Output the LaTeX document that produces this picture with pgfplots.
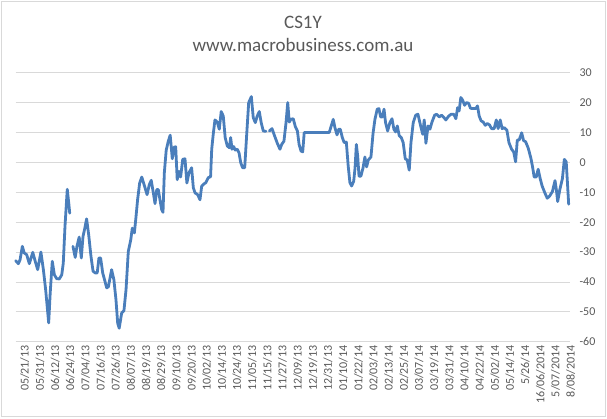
\documentclass[border=0pt]{standalone}
\usepackage{pgfplots}
\pgfplotsset{compat=1.18}
\usepackage{fontspec}
\setmainfont{Carlito}
\definecolor{txtgray}{HTML}{595959}
\definecolor{gridgray}{HTML}{D9D9D9}
\definecolor{lineblue}{HTML}{4A7EBB}

\begin{document}
\begin{tikzpicture}[x=1pt,y=1pt]
\useasboundingbox (0,0) rectangle (607,418);
\draw[gridgray, line width=0.75pt] (1.5,1.5) rectangle (605.5,416.5);

\node[anchor=base, text=txtgray, font=\fontsize{19}{22}\selectfont] at (303,389) {CS1Y};
\node[anchor=base, text=txtgray, font=\fontsize{19}{22}\selectfont] at (303,366) {www.macrobusiness.com.au};

\begin{axis}[
    at={(15.7pt,76.3pt)}, anchor=south west,
    scale only axis,
    width=554.3pt, height=269pt,
    xmin=0, xmax=292.4,
    ymin=-60, ymax=30,
    ytick={-60,-50,...,30},
    xtick={3.2,11.2,...,292},
    xticklabels={05/21/13,05/31/13,06/12/13,06/24/13,07/04/13,07/16/13,07/26/13,08/07/13,08/19/13,08/29/13,09/10/13,09/20/13,10/02/13,10/14/13,10/24/13,11/05/13,11/15/13,11/27/13,12/09/13,12/19/13,12/31/13,01/10/14,01/22/14,02/03/14,02/13/14,02/25/14,03/07/14,03/19/14,03/31/14,04/10/14,04/22/14,05/02/14,05/14/14,5/26/14,16/06/2014,5/07/2014,8/08/2014},
    axis line style={draw=none},
    major tick length=0pt,
    ymajorgrids=true,
    grid style={gridgray, line width=0.75pt},
    yticklabel pos=right,
    /pgf/number format/assume math mode=true,
    yticklabel style={font=\fontsize{12}{14}\selectfont, text=txtgray, anchor=west, xshift=6pt},
    xticklabel style={font=\fontsize{12}{14}\selectfont, text=txtgray, rotate=90, anchor=east, yshift=-3pt},
    unbounded coords=jump,
    clip=false,
]
\addplot[lineblue, line width=2.8pt, line join=round, line cap=round] coordinates {
(0,-32.9) (1.4,-33.9) (2.3,-32.6) (3.5,-28.1) (4.5,-30.3) (5.8,-30.9) (7.2,-33.9) (9.0,-30.1)
(10.3,-33.1) (11.6,-35.9) (13.3,-30) (14.6,-35.9) (15.8,-42.6) (17.4,-53.7) (18.2,-43.7)
(19.3,-33.1) (20.4,-37.6) (21.6,-38.9) (23.0,-39) (24.3,-37.6) (25.1,-33.7) (26.0,-21.4)
(27.2,-9) (28.0,-13.7) (28.5,-17)
(29.3,nan)
(30.2,-28.1) (31.4,-31.8) (32.3,-28.1) (33.5,-25) (34.6,-32) (35.5,-24.8) (36.4,-22.2)
(37.4,-18.9) (38.5,-24.2) (39.7,-31.4) (40.8,-36.4) (42.0,-37) (43.0,-37) (43.9,-32)
(44.8,-32) (45.9,-37) (47.1,-39.8) (48.0,-42) (48.9,-41.6) (50.6,-35.9) (51.8,-39.3)
(52.9,-46) (53.8,-53.8) (54.6,-55.5) (55.9,-50.4) (57.1,-49.6) (58.2,-42.6) (59.4,-29.8)
(60.7,-25.9) (61.5,-22) (62.6,-23.6) (63.4,-18.6) (64.3,-12.5) (65.4,-6.9) (66.5,-4.9)
(67.7,-7.4) (69.3,-10.8) (70.5,-7.4) (71.5,-6) (72.6,-10.2) (73.5,-13.8) (74.4,-9.1)
(75.2,-9.1) (76.1,-12.5) (77.0,-15.8) (77.7,-16.7) (78.4,-3.5) (79.4,4.1) (80.5,7.1)
(81.5,9.1) (82.6,1.2) (83.5,5.1) (84.4,5.2) (85.2,-5.8) (86.1,-3) (87.0,-4.9) (88.1,1)
(89.3,1.2) (90.3,-6.9) (91.4,-3.5) (92.8,-1.8) (93.7,-8.5) (94.6,-10.2) (96.0,-10.8)
(97.2,-12.5) (98.1,-8) (99.3,-7.2) (100.3,-6.8) (101.6,-5.1) (102.8,-4.8) (103.4,4.4)
(104.2,9.4) (105.1,14.2) (106.3,13.5) (107.4,11.1) (108.4,17) (109.5,15.5) (110.5,8.3)
(111.6,5.5) (112.7,4.9) (113.4,8.3) (114.1,4.4) (115.0,5.3) (115.8,4.1) (116.9,4.4)
(117.8,3.2) (118.7,-0.1) (119.7,-1.8) (120.8,-1.8) (121.8,8.8) (122.9,20) (124.3,22)
(125.3,15) (126.4,13.3) (127.4,15.5) (128.5,17) (129.5,13.3) (130.6,10.5) (132.0,10.4)
(132.9,nan)
(133.8,10.5) (135.2,11.3) (136.6,8.8) (138.0,6.4) (139.4,4.4) (140.3,6) (141.5,7.1)
(142.6,13.3) (143.5,20) (144.3,13.5) (145.2,14.4) (146.4,14.6) (147.5,12) (148.6,10.5)
(149.5,6) (150.5,3.8) (151.4,3.5) (152.2,10) (165.4,10) (166.7,12.7) (167.5,14.4)
(168.4,11.6) (169.5,9.2) (170.4,11.1) (171.2,11.1) (172.3,8.3) (173.3,6.6) (174.4,6.8)
(175.4,-1.2) (176.3,-6.8) (177.2,-7.9) (178.3,-6.3) (179.0,-1.9) (179.7,6) (180.4,2.1)
(181.1,-4.6) (182.1,-4.6) (183.2,-1.9) (184.2,1.8) (185.1,-1.5) (186.0,0.8) (187.4,1.8)
(188.5,9.7) (189.5,14.4) (190.7,17.8) (191.6,18) (192.5,15.2) (193.4,15.2) (194.3,17.8)
(195.1,13.3) (196.2,10.5) (197.4,13.3) (198.5,14.6) (199.5,11.1) (200.4,10.2) (201.3,12.2)
(202.3,9) (203.4,8.3) (204.4,6.6) (205.5,1.2) (206.5,0.8) (207.6,-2.6) (208.5,6.6)
(209.7,13.3) (211.0,15.8) (212.2,16.1) (213.6,12.2) (214.7,9.4) (215.5,14.2) (216.4,6.4)
(217.5,12.2) (218.5,11.1) (219.6,13.5) (221.0,15.8) (222.0,16.1) (223.4,15.2) (224.7,15.8)
(225.9,15) (226.9,14.2) (228.4,15.5) (229.7,16.1) (231.1,16.1) (232.2,14.6) (233.1,18.3)
(233.9,17.2) (234.8,21.7) (235.7,20.9) (236.8,19.1) (237.8,20) (238.9,19.8) (239.9,18.1)
(241.3,18) (242.7,18) (243.6,18.9) (244.5,15.5) (245.5,13.9) (246.6,13.5) (247.7,12.4)
(248.8,13) (250.0,12.5) (251.0,11.3) (252.4,11.3) (253.5,14.2) (254.5,11.3) (255.6,14.2)
(256.6,11.3) (257.7,11.6) (259.1,10.8) (260.2,6.6) (261.6,4.4) (262.7,3.5) (263.7,0.2)
(264.6,7.5) (265.6,7.5) (266.9,9.9) (267.9,7.3) (269.0,6.9) (270.4,4.7) (271.8,1.3)
(272.7,-1.7) (273.5,-4.9) (274.6,-4.9) (275.6,-2.3) (276.7,-5.5) (277.7,-7.9) (279.2,-10.3)
(280.4,-12) (281.7,-11.2) (283.1,-9.8) (284.5,-6.1) (285.2,-9.2) (285.9,-13.1) (287.0,-9.2)
(288.4,-5.4) (289.4,1.0) (290.4,0.2) (291.7,-14)
};
\end{axis}
\end{tikzpicture}
\end{document}
